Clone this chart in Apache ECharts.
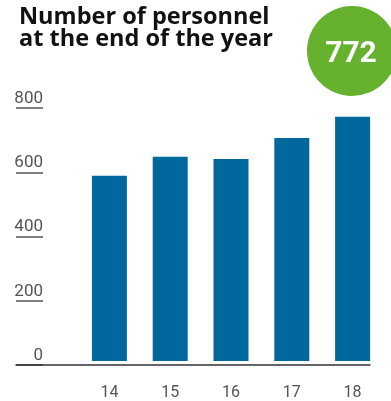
<!DOCTYPE html>
<html>
<head>
<meta charset="utf-8">
<style>
  html, body { margin: 0; padding: 0; background: #ffffff; }
  #chart { width: 391px; height: 401px; }
</style>
<script src="https://cdn.jsdelivr.net/npm/echarts@6/dist/echarts.min.js"></script>
</head>
<body>
<div id="chart"></div>
<script>
// Personnel headcount at year end
const years = ['14', '15', '16', '17', '18'];
const personnel = [586, 646, 639, 705, 772];
const yTicks = { min: 0, max: 800, interval: 200 };

const TEXT = '#555555';
const BAR = '#00689d';
const GREEN = '#66b22e';
const FONT = 'Roboto, "DejaVu Sans", sans-serif';
const TITLE_FONT = '"Open Sans", Roboto, sans-serif';

const chart = echarts.init(document.getElementById('chart'), null, { renderer: 'canvas' });

const gridTop = 108;
const gridBottom = 36;

const hiddenValue = Object.assign({
  type: 'value',
  axisLine: { show: false }, axisTick: { show: false },
  axisLabel: { show: false }, splitLine: { show: false }
}, yTicks);

chart.setOption({
  animation: false,
  title: {
    text: 'Number of personnel\nat the end of the year',
    left: 14, top: 1,
    textStyle: { fontFamily: TITLE_FONT, fontWeight: 'bold', fontSize: 23.5, lineHeight: 22, color: '#111' }
  },
  grid: [
    // baseline grid (full width axis line)
    { left: 16, right: 21, top: gridTop, bottom: gridBottom },
    // y tick labels with short underlines
    { left: 16, right: 348, top: gridTop, bottom: gridBottom },
    // bars
    { left: 79, right: 8, top: gridTop, bottom: gridBottom }
  ],
  xAxis: [
    {
      gridIndex: 0, type: 'value', min: 0, max: 1,
      axisLine: { show: true, onZero: false, lineStyle: { color: '#333', width: 1.5 } },
      axisTick: { show: false }, axisLabel: { show: false }, splitLine: { show: false }
    },
    {
      gridIndex: 1, type: 'value', min: 0, max: 1,
      axisLine: { show: false }, axisTick: { show: false },
      axisLabel: { show: false }, splitLine: { show: false }
    },
    {
      gridIndex: 2, type: 'category', data: years,
      axisLine: { show: false }, axisTick: { show: false },
      axisLabel: { color: TEXT, fontFamily: FONT, fontSize: 16, margin: 24 }
    }
  ],
  yAxis: [
    Object.assign({ gridIndex: 0 }, hiddenValue),
    Object.assign({}, yTicks, {
      gridIndex: 1, type: 'value', position: 'right',
      axisLine: { show: false }, axisTick: { show: false },
      axisLabel: {
        inside: true, margin: 0, color: TEXT, fontFamily: FONT, fontSize: 17,
        verticalAlign: 'bottom', padding: [0, 0, 1, 0]
      },
      splitLine: { show: true, lineStyle: { color: '#555', width: 1.5 } }
    }),
    Object.assign({ gridIndex: 2 }, hiddenValue)
  ],
  series: [{
    type: 'bar',
    xAxisIndex: 2, yAxisIndex: 2,
    data: personnel,
    barWidth: 35,
    itemStyle: { color: BAR },
    silent: true
  }],
  graphic: [
    {
      type: 'circle',
      shape: { cx: 352, cy: 51, r: 45 },
      style: { fill: GREEN },
      z: 10
    },
    {
      type: 'text',
      x: 351, y: 54,
      style: {
        text: String(personnel[personnel.length - 1]),
        fill: '#fff', fontFamily: FONT, fontWeight: 'bold', fontSize: 30,
        align: 'center', verticalAlign: 'middle'
      },
      z: 11
    }
  ]
});
</script>
</body>
</html>
